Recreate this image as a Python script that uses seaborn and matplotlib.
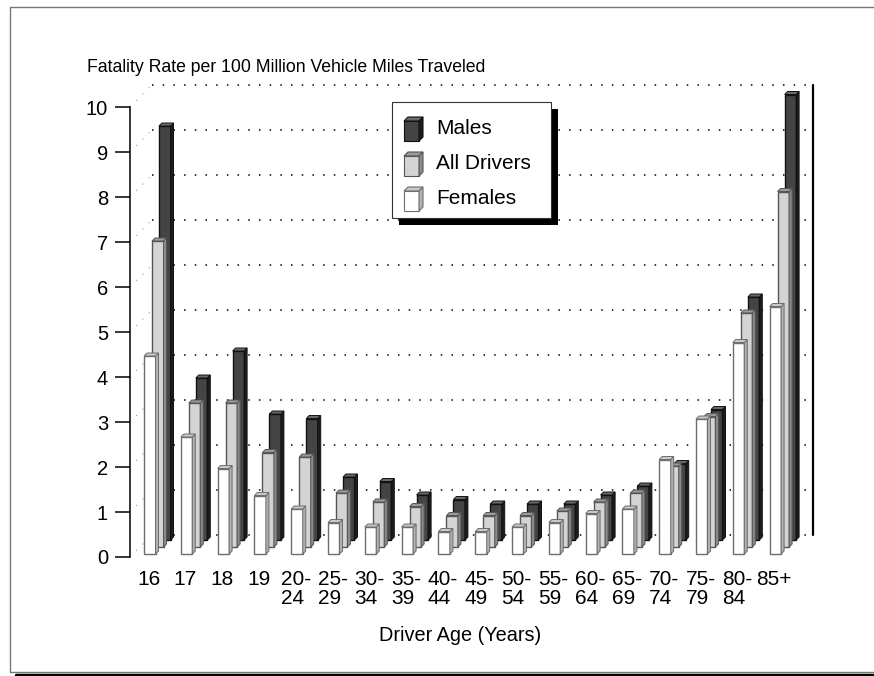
import matplotlib
matplotlib.use('Agg')
import matplotlib.pyplot as plt
import seaborn as sns
import numpy as np
from matplotlib.transforms import ScaledTranslation
from matplotlib.patches import Polygon, Rectangle
from matplotlib.lines import Line2D

# ---------------- data ----------------
ages = ['16', '17', '18', '19', '20-\n24', '25-\n29', '30-\n34', '35-\n39', '40-\n44',
        '45-\n49', '50-\n54', '55-\n59', '60-\n64', '65-\n69', '70-\n74', '75-\n79',
        '80-\n84', '85+']
females = [4.4, 2.6, 1.9, 1.3, 1.0, 0.7, 0.6, 0.6, 0.5, 0.5, 0.6, 0.7, 0.9, 1.0, 2.1, 3.0, 4.7, 5.5]
all_drivers = [6.8, 3.2, 3.2, 2.1, 2.0, 1.2, 1.0, 0.9, 0.7, 0.7, 0.7, 0.8, 1.0, 1.2, 1.8, 2.9, 5.2, 7.9]
males = [9.2, 3.6, 4.2, 2.8, 2.7, 1.4, 1.3, 1.0, 0.9, 0.8, 0.8, 0.8, 1.0, 1.2, 1.7, 2.9, 5.4, 9.9]
yticks = list(range(0, 11))
title = 'Fatality Rate per 100 Million Vehicle Miles Traveled'
xlabel = 'Driver Age (Years)'
legend_labels = ['Males', 'All Drivers', 'Females']

# ---------------- style ----------------
sns.set_theme(style='white')
plt.rcParams['font.family'] = ['Liberation Sans', 'DejaVu Sans']
FS_TITLE, FS_YT, FS_XT, FS_XL, FS_LEG = 12.7, 14.5, 15, 14.3, 15

W, H, DPI = 874, 676, 100
fig = plt.figure(figsize=(W / DPI, H / DPI), dpi=DPI)
fig.patch.set_facecolor('white')

AX_L, AX_R, AX_T, AX_B = 130, 791, 107, 557
ax = fig.add_axes([AX_L / W, 1 - AX_B / H, (AX_R - AX_L) / W, (AX_B - AX_T) / H])
ax.set_facecolor('none')

STEP = 36.8          # px per category
C0 = 149.75          # px centre of first front bar
XL0 = (AX_L - C0) / STEP
XL1 = (AX_R - C0) / STEP
BW = 11.5 / STEP
sx = (XL1 - XL0) / (AX_R - AX_L)   # data per px
sy = 10.0 / (AX_B - AX_T)
D = 3.0  # bar depth px


def off(dx, dy):
    return ax.transData + ScaledTranslation(dx / DPI, dy / DPI, fig.dpi_scale_trans)


def draw_series(vals, face, edge, top, side, dx, dy, z):
    n0 = len(ax.patches)
    sns.barplot(x=ages, y=vals, order=ages, ax=ax, color=face, width=BW,
                edgecolor=edge, linewidth=1.0, saturation=1, errorbar=None)
    tr = off(dx, dy)
    ddx, ddy = D * sx, D * sy
    for p in list(ax.patches[n0:]):
        p.set_transform(tr)
        p.set_clip_on(False)
        p.set_zorder(z)
        x0, y0, w, h = p.get_x(), p.get_y(), p.get_width(), p.get_height()
        tp = Polygon([(x0, y0 + h), (x0 + w, y0 + h), (x0 + w + ddx, y0 + h + ddy),
                      (x0 + ddx, y0 + h + ddy)], closed=True, facecolor=top,
                     edgecolor=edge, lw=0.7, transform=tr, clip_on=False, zorder=z)
        sd = Polygon([(x0 + w, y0), (x0 + w + ddx, y0 + ddy), (x0 + w + ddx, y0 + h + ddy),
                      (x0 + w, y0 + h)], closed=True, facecolor=side,
                     edgecolor=edge, lw=0.7, transform=tr, clip_on=False, zorder=z)
        ax.add_patch(sd)
        ax.add_patch(tp)


# back wall grid
BACK = 22
trb = off(BACK, BACK)
for v in yticks:
    ax.plot([XL0, XL1], [v, v], transform=trb, color='black', lw=1.1,
            linestyle=(0, (1, 6)), clip_on=False, zorder=0.5)
    # side wall diagonal
    ax.add_line(Line2D([AX_L / W, (AX_L + BACK) / W], [1 - (AX_B - v * 45) / H, 1 - (AX_B - v * 45 - BACK) / H],
                       transform=fig.transFigure, color='#9a9a9a', lw=0.8,
                       linestyle=(0, (1, 7)), clip_on=False, zorder=0.4))
ax.plot([XL1, XL1], [0, 10], transform=trb, color='black', lw=1.6, clip_on=False, zorder=0.6)

draw_series(males, '#444444', '#111111', '#6a6a6a', '#1c1c1c', 15, 17, 2)
draw_series(all_drivers, '#d4d4d4', '#555555', '#9a9a9a', '#8a8a8a', 8, 10, 3)
draw_series(females, '#ffffff', '#6e6e6e', '#c8c8c8', '#b0b0b0', 0, 3, 4)

ax.set_xlim(XL0, XL1)
ax.set_ylim(0, 10)
ax.set_yticks(yticks)
ax.set_yticklabels([str(v) for v in yticks], fontsize=FS_YT)
ax.set_xticks(np.arange(len(ages)) - 0.03)
ax.set_xticklabels(ages, fontsize=FS_XT, linespacing=1.02)
for lbl in ax.get_xticklabels():
    lbl.set_multialignment('left')
ax.set_xlabel('')
ax.set_ylabel('')
for s in ['top', 'right', 'bottom']:
    ax.spines[s].set_visible(False)
ax.spines['left'].set_color('black')
ax.spines['left'].set_linewidth(1.1)
ax.tick_params(axis='y', which='major', length=10.8, width=1.1, color='black',
               direction='out', pad=5, left=True, labelcolor='black')
ax.tick_params(axis='x', length=0, pad=9.5, labelcolor='black')

# texts
fig.text(87 / W, 1 - 72 / H, title, fontsize=FS_TITLE, ha='left', va='baseline', color='black')
fig.text(460 / W, 1 - 641 / H, xlabel, fontsize=FS_XL, ha='center', va='baseline', color='black')

# legend (manual box with drop shadow)
def fr(x, y, w, h, **kw):
    fig.patches.append(Rectangle((x / W, 1 - (y + h) / H), w / W, h / H,
                                 transform=fig.transFigure, **kw))

fr(399, 109, 159, 116, facecolor='black', edgecolor='none', zorder=10)
fr(392, 102, 159, 116, facecolor='white', edgecolor='#333333', lw=0.8, zorder=11)
sw = [('#444444', '#111111', '#6a6a6a', '#1c1c1c', 117),
      ('#d4d4d4', '#555555', '#9a9a9a', '#8a8a8a', 152),
      ('#ffffff', '#6e6e6e', '#c8c8c8', '#b0b0b0', 187)]
for (fc, ec, tc, sc, yt), lab in zip(sw, legend_labels):
    x0, w, h, d = 404, 15, 20, 4
    def P(pts, c):
        fig.patches.append(Polygon([(px / W, 1 - py / H) for px, py in pts], closed=True,
                                   transform=fig.transFigure, facecolor=c, edgecolor=ec,
                                   lw=0.8, zorder=12))
    P([(x0, yt + d), (x0 + w, yt + d), (x0 + w, yt + d + h), (x0, yt + d + h)], fc)
    P([(x0, yt + d), (x0 + d, yt), (x0 + w + d, yt), (x0 + w, yt + d)], tc)
    P([(x0 + w, yt + d), (x0 + w + d, yt), (x0 + w + d, yt + h), (x0 + w, yt + d + h)], sc)
    fig.text(436 / W, 1 - (yt + 17) / H, lab, fontsize=FS_LEG, ha='left', va='baseline',
             color='black', zorder=13)

# outer frame
fig.add_artist(Line2D([10 / W, 1], [1 - 7 / H, 1 - 7 / H], transform=fig.transFigure,
                      color='#777777', lw=1.0))
fig.add_artist(Line2D([10 / W, 10 / W], [1 - 7 / H, 1 - 672 / H], transform=fig.transFigure,
                      color='#777777', lw=1.0))
fig.add_artist(Line2D([10 / W, 1], [1 - 672 / H, 1 - 672 / H], transform=fig.transFigure,
                      color='#777777', lw=1.0))
fig.add_artist(Line2D([16 / W, 1], [1 - 674.5 / H, 1 - 674.5 / H], transform=fig.transFigure,
                      color='black', lw=2.5))

fig.savefig('out.png', dpi=DPI, facecolor='white')
